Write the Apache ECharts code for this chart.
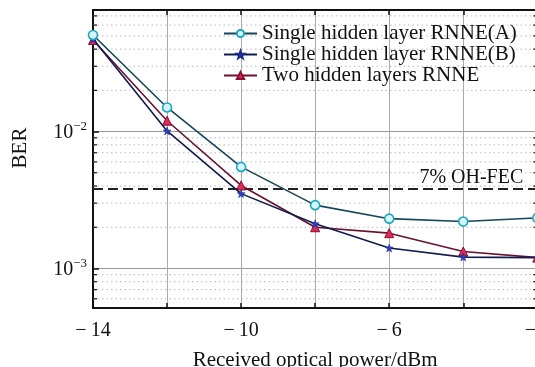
<!DOCTYPE html>
<html><head><meta charset="utf-8">
<script src="https://cdn.jsdelivr.net/npm/echarts@6/dist/echarts.min.js"></script>
<style>html,body{margin:0;padding:0;background:#fff}#c{width:535px;height:367px}</style>
</head><body><div id="c"></div>
<script>
const power = [-14, -12, -10, -8, -6, -4, -2];
const berA = [0.0508, 0.0150, 0.00552, 0.00290, 0.00231, 0.00220, 0.00234];
const berB = [0.0475, 0.0101, 0.00352, 0.00212, 0.00141, 0.00121, 0.00120];
const berC = [0.0467, 0.0120, 0.00404, 0.00200, 0.00181, 0.00133, 0.00120];
const fecThreshold = 0.0038;
const fecLabel = '7% OH-FEC';
const xTickLabels = [-14, -10, -6, -2];
const minorY = [6e-4, 7e-4, 8e-4, 9e-4, 2e-3, 3e-3, 4e-3, 5e-3, 6e-3, 7e-3, 8e-3, 9e-3, 2e-2, 3e-2, 4e-2, 5e-2, 6e-2, 7e-2];
const names = ['Single hidden layer RNNE(A)', 'Single hidden layer RNNE(B)', 'Two hidden layers RNNE'];

const FONT = "'Liberation Serif', 'Times New Roman', serif";
const STAR = 'path://M0,-10 L2.35,-3.24 L9.51,-3.09 L3.8,1.24 L5.88,8.09 L0,4 L-5.88,8.09 L-3.8,1.24 L-9.51,-3.09 L-2.35,-3.24Z';

const chart = echarts.init(document.getElementById('c'));
const pair = arr => power.map((x, i) => [x, arr[i]]);
const xMin = power[0], xMax = power[power.length - 1];

chart.setOption({
  backgroundColor: '#fff',
  animation: false,
  textStyle: { fontFamily: FONT },
  grid: { left: 93, top: 10, height: 298, right: -2.3, outerBoundsMode: 'none', containLabel: false, show: true, borderColor: '#111', borderWidth: 2, backgroundColor: 'transparent' },
  legend: {
    data: names, orient: 'vertical', left: 223, top: 23, padding: 0,
    itemWidth: 33, itemHeight: 9, itemGap: 0,
    textStyle: { fontFamily: FONT, fontSize: 21, lineHeight: 19, color: '#111' }
  },
  xAxis: [{
    type: 'value', min: -14, max: -2, interval: 2,
    axisLine: { show: true, lineStyle: { color: '#111', width: 2 } },
    axisTick: { show: true, inside: true, length: 5, lineStyle: { color: '#111', width: 1.5 } },
    splitLine: { show: true, lineStyle: { color: '#aaa', width: 1 } },
    axisLabel: {
      margin: 13, fontSize: 20, fontFamily: FONT, color: '#111',
      formatter: v => xTickLabels.indexOf(v) >= 0 ? (v < 0 ? '\u2212\u2009' : '') + Math.abs(v) : ''
    },
    name: 'Received optical power/dBm', nameLocation: 'middle', nameGap: 42,
    nameTextStyle: { fontSize: 21, fontFamily: FONT, color: '#111' }
  }, {
    type: 'value', min: -14, max: -2, interval: 2, position: 'top',
    axisLine: { show: true, lineStyle: { color: '#111', width: 2 } },
    axisTick: { show: true, inside: true, length: 5, lineStyle: { color: '#111', width: 1.5 } },
    splitLine: { show: false }, axisLabel: { show: false }
  }],
  yAxis: {
    type: 'log', logBase: 10, min: 0.000514, max: 0.0773, splitNumber: 2,
    axisLine: { show: true, lineStyle: { color: '#111', width: 2 } },
    axisTick: { show: true, inside: true, length: 6, lineStyle: { color: '#111', width: 1.5 } },
    splitLine: { show: true, lineStyle: { color: '#999', width: 1 } },
    axisLabel: {
      margin: 6, fontSize: 20, fontFamily: FONT, color: '#111',
      showMinLabel: false, showMaxLabel: false,
      formatter: function (v) {
        const l = Math.log10(v), e = Math.round(l);
        if (Math.abs(l - e) > 1e-6) return '';
        return '{b|10}{sup|' + (e < 0 ? '\u2212' : '') + Math.abs(e) + '}';
      },
      rich: {
        b: { fontSize: 20, fontFamily: FONT, color: '#111', lineHeight: 22, verticalAlign: 'bottom' },
        sup: { fontSize: 13, fontFamily: FONT, color: '#111', lineHeight: 13, verticalAlign: 'top' }
      }
    },
    name: 'BER', nameLocation: 'middle', nameGap: 62,
    nameTextStyle: { fontSize: 21, fontFamily: FONT, color: '#111', padding: [0, 0, 0, 22] }
  },
  series: [
    {
      type: 'custom', name: 'minor', silent: true, z: 1,
      data: minorY.map(v => [xMin, v]),
      renderItem: function (params, api) {
        const cs = params.coordSys;
        const y = api.coord([api.value(0), api.value(1)])[1];
        return {
          type: 'group', children: [
            { type: 'line', shape: { x1: cs.x, y1: y, x2: cs.x + cs.width, y2: y }, style: { stroke: '#bbb', lineWidth: 1, lineDash: [1.5, 3] } },
            { type: 'line', shape: { x1: cs.x, y1: y, x2: cs.x + 4, y2: y }, style: { stroke: '#111', lineWidth: 1.2 } },
            { type: 'line', shape: { x1: cs.x + cs.width - 4, y1: y, x2: cs.x + cs.width, y2: y }, style: { stroke: '#111', lineWidth: 1.2 } }
          ]
        };
      }
    },
    {
      type: 'line', name: 'fec', silent: true, z: 2,
      data: [[xMin, fecThreshold], [xMax, fecThreshold]],
      symbol: 'none',
      lineStyle: { type: [10, 5], color: '#222', width: 2 },
      endLabel: { show: true, formatter: fecLabel, fontSize: 20, fontFamily: FONT, color: '#111', align: 'right', verticalAlign: 'bottom', offset: [-22, -1] }
    },
    {
      type: 'line', name: names[0], data: pair(berA), z: 5,
      symbol: 'circle', symbolSize: 9,
      lineStyle: { color: '#15475a', width: 1.6 },
      itemStyle: { color: '#d8f4f8', borderColor: '#19a9c4', borderWidth: 1.6 }
    },
    {
      type: 'line', name: names[1], data: pair(berB), z: 4,
      symbol: STAR, symbolSize: 8,
      lineStyle: { color: '#101c50', width: 1.6 },
      itemStyle: { color: '#2b3fc0', borderColor: '#1a2a90', borderWidth: 0.5 }
    },
    {
      type: 'line', name: names[2], data: pair(berC), z: 3,
      symbol: 'triangle', symbolSize: 9,
      lineStyle: { color: '#6a1030', width: 1.6 },
      itemStyle: { color: '#e02a5a', borderColor: '#8a1030', borderWidth: 1 }
    }
  ]
});
</script></body></html>
